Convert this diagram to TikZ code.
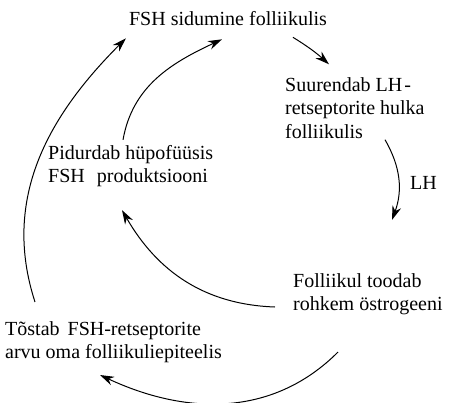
\documentclass[tikz,border=0pt]{standalone}
\usepackage{fontspec}
\setmainfont{Liberation Serif}
\usetikzlibrary{arrows.meta}

\tikzset{
  txt/.style={align=left, inner sep=0pt, font=\fontsize{20}{23.5}\selectfont},
  arr/.style={line width=1pt, -{Stealth[length=14pt,width=9pt]}},
}

\begin{document}
\begin{tikzpicture}[x=1pt,y=1pt]
\useasboundingbox (0,0) rectangle (449,-403);

\node[txt] (fsh) at (228,-19) {FSH sidumine folliikulis};
\node[txt,anchor=west] (lhrets) at (285,-108) {Suurendab LH\kern2pt-\\retseptorite hulka\\folliikulis};
\node[txt,anchor=west] (toodab) at (293,-294) {Folliikul toodab\\rohkem östrogeeni};
\node[txt,anchor=west] (pidurdab) at (48,-166) {Pidurdab hüpofüüsis\\FSH\hspace{12pt}produktsiooni};
\node[txt,anchor=west] (tostab) at (5,-342) {Tõstab\hspace{3pt} FSH-retseptorite\\arvu oma folliikuliepiteelis};
\node[txt,anchor=west] (lhlabel) at (410,-183) {LH};

\draw[arr] ([shift={(65,-11)}]fsh.south) to[bend left=5] ([shift={(44,13)}]lhrets.north west);
\draw[arr] ([shift={(100,-1)}]lhrets.south west) to[bend left=25] ([shift={(99,53)}]toodab.north west);
\draw[arr] ([shift={(-18,-13)}]toodab.west) to[out=178,in=-60] ([shift={(74,-23)}]pidurdab.south west);
\draw[arr] ([shift={(75,5)}]pidurdab.north west) to[out=80,in=205] ([shift={(-6,-13)}]fsh.south);
\draw[arr] ([shift={(30,19)}]tostab.north west) to[out=108,in=225] ([shift={(-3,-12)}]fsh.south west);
\draw[arr] ([shift={(45,-37)}]toodab.south west) to[out=-135,in=-25] ([shift={(95,-12)}]tostab.south west);

\end{tikzpicture}
\end{document}
